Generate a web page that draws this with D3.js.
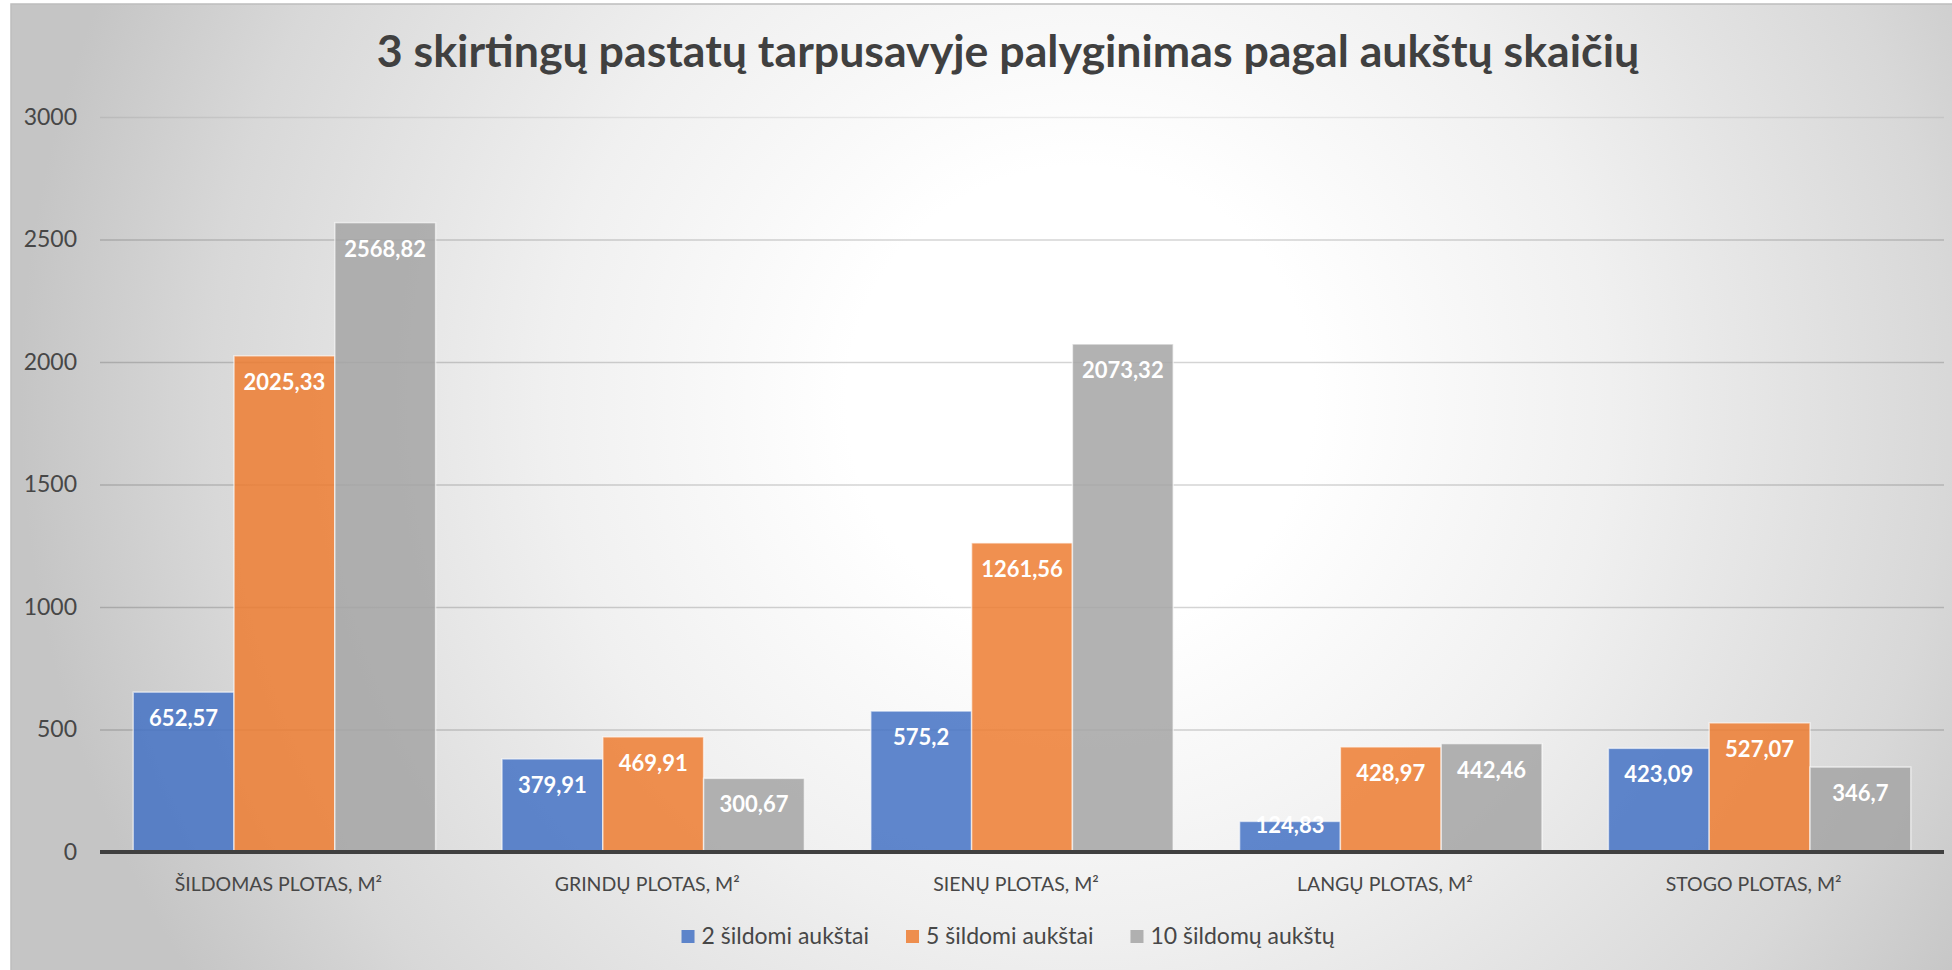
<!DOCTYPE html>
<html>
<head>
<meta charset="utf-8">
<script src="https://cdn.jsdelivr.net/npm/d3@7"></script>
<style>
  body { margin: 0; background: #fff; overflow: hidden; }
  svg text { font-family: Lato, "Open Sans", sans-serif; }
</style>
</head>
<body>
<div id="chart"></div>
<script>
var categories = ["ŠILDOMAS PLOTAS, M²", "GRINDŲ PLOTAS, M²", "SIENŲ PLOTAS, M²", "LANGŲ PLOTAS, M²", "STOGO PLOTAS, M²"]
var series_names = ["2 šildomi aukštai", "5 šildomi aukštai", "10 šildomų aukštų"]
var series_colors = ["#4472C4", "#ED7D31", "#A5A5A5"]
var floors_2 = [652.57, 379.91, 575.2, 124.83, 423.09]
var floors_5 = [2025.33, 469.91, 1261.56, 428.97, 527.07]
var floors_10 = [2568.82, 300.67, 2073.32, 442.46, 346.7]
var y_ticks = [0, 500, 1000, 1500, 2000, 2500, 3000]
var chart_title = "3 skirtingų pastatų tarpusavyje palyginimas pagal aukštų skaičių"

var width = 1952, height = 970
var plot_left = 100, plot_right = 1944, plot_top = 117, plot_bottom = 852

var rows = categories.map(function(c, i) {
  return { cat: c, values: [floors_2[i], floors_5[i], floors_10[i]] }
})

var svg = d3.select("#chart")
  .append("svg")
  .attr("width", width)
  .attr("height", height)

// radial background like the office chart style
var grad = svg.append("defs")
  .append("radialGradient")
  .attr("id", "bg")
  .attr("gradientUnits", "userSpaceOnUse")
  .attr("cx", 1080).attr("cy", 400).attr("r", 1060)
grad.selectAll("stop")
  .data([[0, "#ffffff"], [0.22, "#ffffff"], [0.5, "#f0f0f0"], [0.82, "#d8d8d8"], [1, "#c5c5c5"]])
  .enter().append("stop")
  .attr("offset", function(d) { return d[0] })
  .attr("stop-color", function(d) { return d[1] })

svg.append("rect")
  .attr("x", 11).attr("y", 4)
  .attr("width", width).attr("height", height)
  .attr("fill", "url(#bg)")
  .attr("stroke", "#bdbdbd")
  .attr("stroke-width", 1.5)

var x0 = d3.scaleBand()
  .domain(categories)
  .range([plot_left, plot_right])
  .paddingInner(0.18)
  .paddingOuter(0.09)

var x1 = d3.scaleBand()
  .domain(series_names)
  .range([0, x0.bandwidth()])

var y = d3.scaleLinear()
  .domain([0, 3000])
  .range([plot_bottom, plot_top])

var color = d3.scaleOrdinal().domain(series_names).range(series_colors)

// gridlines + y labels
var yAxis = svg.append("g")
  .attr("transform", "translate(" + plot_left + ",0)")
  .call(d3.axisLeft(y).tickValues(y_ticks).tickFormat(d3.format("d"))
    .tickSize(-(plot_right - plot_left)).tickPadding(23))
yAxis.select(".domain").remove()
yAxis.selectAll(".tick line")
  .attr("stroke", "#000")
  .attr("stroke-opacity", function(d) { return d === 3000 ? 0.07 : 0.17 })
  .attr("stroke-width", 1.6)
yAxis.selectAll(".tick text")
  .attr("fill", "#474747")
  .style("font-size", "23px")

// bars
var groups = svg.append("g").selectAll("g")
  .data(rows)
  .enter().append("g")
  .attr("transform", function(d) { return "translate(" + x0(d.cat) + ",0)" })

var cells = groups.selectAll("g")
  .data(function(d) { return d.values.map(function(v, i) { return { name: series_names[i], value: v } }) })
  .enter().append("g")

cells.append("rect")
  .attr("x", function(d) { return x1(d.name) })
  .attr("y", function(d) { return y(d.value) })
  .attr("width", x1.bandwidth())
  .attr("height", function(d) { return y(0) - y(d.value) })
  .attr("fill", function(d) { return color(d.name) })
  .attr("fill-opacity", 0.85)
  .attr("stroke", "#fff")
  .attr("stroke-opacity", 0.6)
  .attr("stroke-width", 1.5)

cells.append("text")
  .attr("x", function(d) { return x1(d.name) + x1.bandwidth() / 2 })
  .attr("y", function(d) { return Math.min(y(d.value) + 34, y(0) - 19) })
  .attr("text-anchor", "middle")
  .attr("fill", "#fff")
  .style("font-size", "22px")
  .style("font-weight", "bold")
  .text(function(d) { return String(d.value).replace(".", ",") })

// zero axis
svg.append("line")
  .attr("x1", plot_left).attr("x2", plot_right)
  .attr("y1", y(0)).attr("y2", y(0))
  .attr("stroke", "#404040")
  .attr("stroke-width", 4)

var xAxis = svg.append("g")
  .attr("transform", "translate(0," + plot_bottom + ")")
  .call(d3.axisBottom(x0).tickSize(0).tickPadding(25))
xAxis.select(".domain").remove()
xAxis.selectAll(".tick text")
  .attr("fill", "#474747")
  .attr("dx", -6)
  .style("font-size", "19.5px")

// title, sized to the span it has in the picture
var title = svg.append("text")
  .attr("x", 1008)
  .attr("y", 67)
  .attr("text-anchor", "middle")
  .attr("fill", "#404040")
  .style("font-size", "38px")
  .style("font-weight", "bold")
  .text(chart_title)
var tw = title.node().getComputedTextLength()
title.style("font-size", (38 * 1263 / tw) + "px")

// legend
var legend = svg.append("g")
var lx = 0
series_names.forEach(function(name, i) {
  var item = legend.append("g").attr("transform", "translate(" + lx + ",0)")
  item.append("rect")
    .attr("x", 0).attr("y", 930)
    .attr("width", 13).attr("height", 13)
    .attr("fill", color(name))
    .attr("fill-opacity", 0.85)
  var t = item.append("text")
    .attr("x", 20).attr("y", 944)
    .attr("fill", "#474747")
    .style("font-size", "23px")
    .text(name)
  lx += 20 + t.node().getComputedTextLength() + 37
})
lx -= 37
legend.attr("transform", "translate(" + (1008 - lx / 2) + ",0)")
</script>
</body>
</html>
